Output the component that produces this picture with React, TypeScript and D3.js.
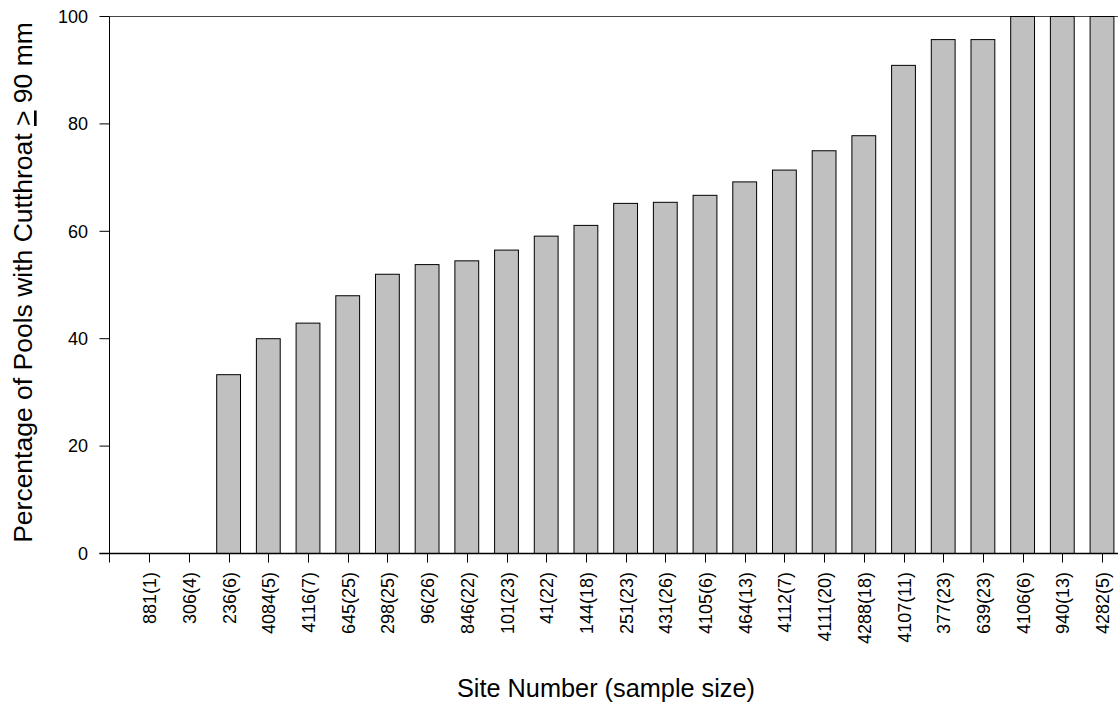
import React from 'react';
import * as d3 from 'd3';

const sites = [
  '881(1)', '306(4)', '236(6)', '4084(5)', '4116(7)', '645(25)', '298(25)', '96(26)',
  '846(22)', '101(23)', '41(22)', '144(18)', '251(23)', '431(26)', '4105(6)', '464(13)',
  '4112(7)', '4111(20)', '4288(18)', '4107(11)', '377(23)', '639(23)', '4106(6)', '940(13)',
  '4282(5)',
];
const percents = [
  0, 0, 33.3, 40, 42.9, 48, 52, 53.8, 54.5, 56.5, 59.1, 61.1, 65.2, 65.4, 66.7, 69.2,
  71.4, 75, 77.8, 90.9, 95.7, 95.7, 100, 100, 100,
];
const yTicks = [0, 20, 40, 60, 80, 100];

const width = 1118;
const height = 708;
const left = 109.5;
const bottom = 553.5;
const top = 16.5;
const step = 39.7;

function App() {
  const x = d3
    .scaleBand<string>()
    .domain(sites)
    .range([left + step / 2, left + step / 2 + step * sites.length])
    .paddingInner(0.4)
    .paddingOuter(0.2);

  const y = d3.scaleLinear().domain([0, 100]).range([bottom, top]);
  const right = left + step * (sites.length + 1);
  const font = 'Liberation Sans, Arial, sans-serif';

  return (
    <svg
      width={width}
      height={height}
      style={{ position: 'absolute', left: 0, top: 0, background: '#fff' }}
      fontFamily={font}
    >
      {/* top frame line */}
      <line x1={left} x2={right} y1={top} y2={top} stroke="#444" strokeWidth={1} />

      {sites.map((s, i) => (
        <rect
          key={s}
          x={x(s)}
          width={x.bandwidth()}
          y={y(percents[i])}
          height={bottom - y(percents[i])}
          fill="#c0c0c0"
          stroke="#000"
          strokeWidth={1}
        />
      ))}

      {/* y axis */}
      <line x1={left} x2={left} y1={top} y2={bottom} stroke="#000" strokeWidth={1} />
      {yTicks.map((t) => (
        <g key={t}>
          <line x1={left - 10} x2={left} y1={y(t)} y2={y(t)} stroke="#000" strokeWidth={1} />
          <text x={88} y={y(t)} dy="0.35em" textAnchor="end" fontSize={18} fill="#000">
            {t}
          </text>
        </g>
      ))}

      {/* x axis */}
      <line x1={left - 10} x2={right} y1={bottom} y2={bottom} stroke="#000" strokeWidth={1.5} />
      <line x1={left} x2={left} y1={bottom} y2={bottom + 9} stroke="#000" strokeWidth={1} />
      {sites.map((s) => {
        const cx = Math.round((x(s) as number) + x.bandwidth() / 2) + 0.5;
        return (
          <g key={s}>
            <line x1={cx} x2={cx} y1={bottom} y2={bottom + 9} stroke="#000" strokeWidth={1} />
            <text
              transform={`translate(${cx},572) rotate(-90)`}
              dy="0.35em"
              textAnchor="end"
              fontSize={18}
              fill="#000"
            >
              {s}
            </text>
          </g>
        );
      })}

      <text x={606} y={697} textAnchor="middle" fontSize={25.3} fill="#000">
        Site Number (sample size)
      </text>
      <text
        transform={`translate(32,282.5) rotate(-90)`}
        textAnchor="middle"
        fontSize={26.5}
        fill="#000"
      >
        Percentage of Pools with Cutthroat{' '}
        <tspan textDecoration="underline">&gt;</tspan> 90 mm
      </text>
    </svg>
  );
}

export default App;
